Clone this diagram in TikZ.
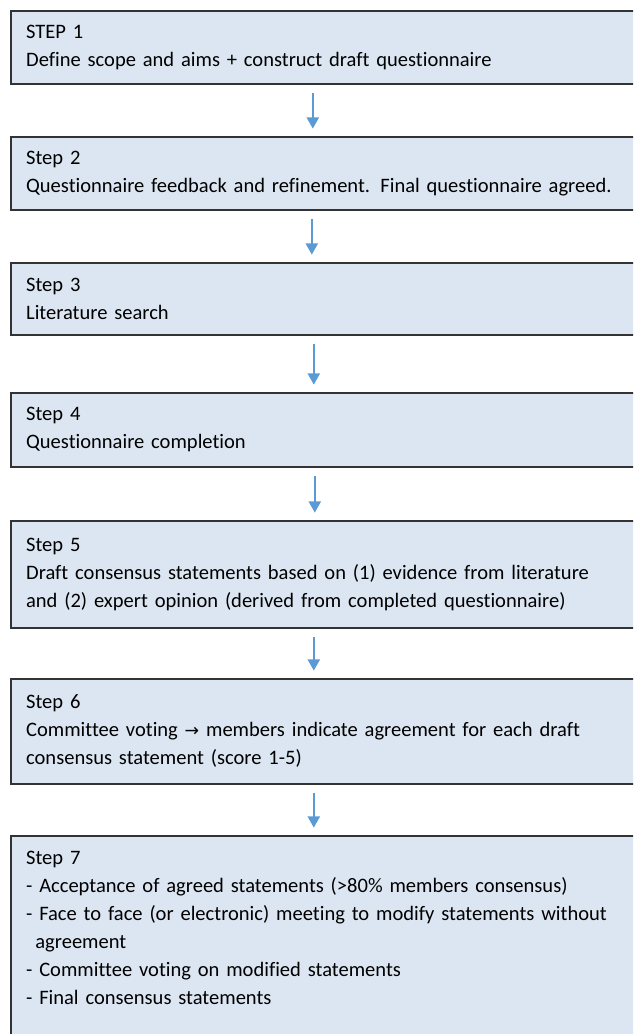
\documentclass[tikz,border=0pt]{standalone}
\usepackage{fontspec}
\setmainfont{Carlito}[Ligatures=NoCommon,Contextuals=NoAlternate]
\newfontfamily\symfont{DejaVu Sans}
\usetikzlibrary{arrows.meta}

\definecolor{boxfill}{HTML}{DCE6F2}
\definecolor{boxline}{HTML}{333333}
\definecolor{flowblue}{HTML}{5B9BD5}

\begin{document}
\begin{tikzpicture}[
       x=0.75pt,y=-0.75pt,
       stepbox/.style={
         draw=boxline,
         fill=boxfill,
         line width=1.2pt,
         anchor=north west,
         inner xsep=11.5pt,
         inner ysep=0pt,
         text width=449.5pt,
         align=left,
         font=\fontsize{15.4}{21}\selectfont
       },
       flow/.style={
         draw=flowblue,
         line width=1.8pt,
         -{Triangle[width=9pt,length=8.5pt]},
         shorten <=6.5pt,
         shorten >=5.5pt
       }
     ]

       \useasboundingbox (0,0) rectangle (633,1034);
       \clip (0,0) rectangle (633,1034);

       \node (s1) at (10,10) [stepbox,minimum height=54.75pt]{STEP 1\\Define scope and aims + construct draft questionnaire};
       \node (s2) at (10,136) [stepbox,minimum height=54.75pt]{Step 2\\Questionnaire feedback and refinement. Final questionnaire agreed.};
       \node (s3) at (10,262) [stepbox,minimum height=54pt]{Step 3\\Literature search};
       \node (s4) at (10,392) [stepbox,minimum height=55.5pt]{Step 4\\Questionnaire completion};
       \node (s5) at (10,520) [stepbox,minimum height=80.25pt]{Step 5\\Draft consensus statements based on (1) evidence from literature\\and (2) expert opinion (derived from completed questionnaire)};
       \node (s6) at (10,678) [stepbox,minimum height=78.75pt]{Step 6\\Committee voting {\symfont\fontsize{13}{21}\selectfont →} members indicate agreement for each draft\\consensus statement (score 1-5)};
       \node (s7) at (10,835) [stepbox,minimum height=159.75pt]{Step 7\\- Acceptance of agreed statements (>80\% members consensus)\\- Face to face (or electronic) meeting to modify statements without\\\hspace*{0.45em}agreement\\- Committee voting on modified statements\\- Final consensus statements\\\mbox{}};

       \draw[flow] ([xshift=-9.75pt]s1.south) -- ([xshift=-9.75pt]s2.north);
       \draw[flow] ([xshift=-10.5pt]s2.south) -- ([xshift=-10.5pt]s3.north);
       \draw[flow] ([xshift=-9pt]s3.south) -- ([xshift=-9pt]s4.north);
       \draw[flow] ([xshift=-8.25pt]s4.south) -- ([xshift=-8.25pt]s5.north);
       \draw[flow] ([xshift=-9pt]s5.south) -- ([xshift=-9pt]s6.north);
       \draw[flow] ([xshift=-9pt]s6.south) -- ([xshift=-9pt]s7.north);

\end{tikzpicture}
\end{document}
